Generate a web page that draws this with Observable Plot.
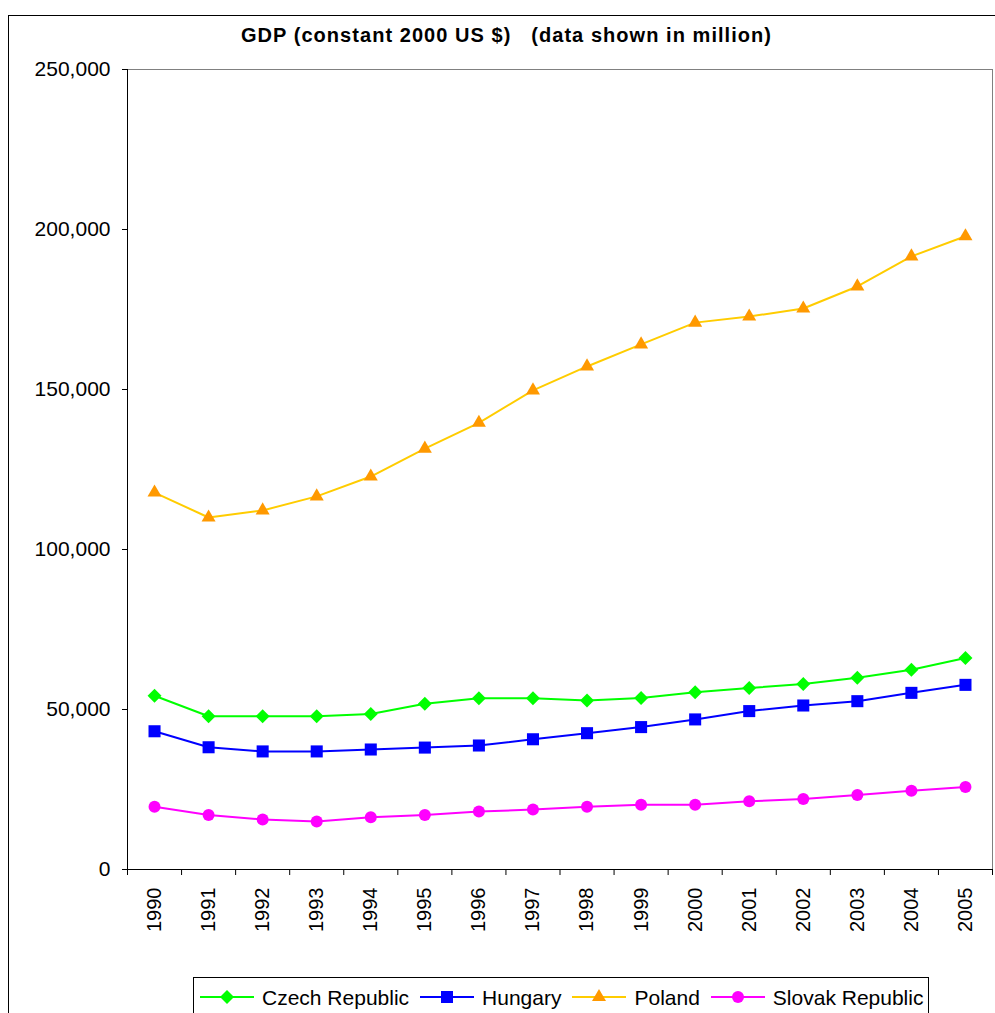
<!DOCTYPE html>
<html>
<head>
<meta charset="utf-8">
<script src="https://cdn.jsdelivr.net/npm/d3@7"></script>
<script src="https://cdn.jsdelivr.net/npm/@observablehq/plot@0.6"></script>
<style>
  body { margin: 0; background: #fff; font-family: "Liberation Sans", Arial, sans-serif; }
  #wrap { position: relative; width: 995px; height: 1013px; overflow: hidden; background: #fff; }
  #frame { position: absolute; left: 8px; top: 15px; width: 1000px; height: 1100px; border: 1px solid #000; z-index: 2; pointer-events: none; }
  #title { position: absolute; top: 26px; left: 0; width: 1013px; text-align: center; font-weight: bold; font-size: 20px; line-height: 19px; letter-spacing: 1.05px; z-index: 3; white-space: pre; }
  #chart { position: absolute; left: 0; top: 0; z-index: 1; }
  #legend { position: absolute; left: 193px; top: 977px; width: 736px; height: 60px; border: 1px solid #000; background: #fff; z-index: 3; display: flex; flex-wrap: nowrap; align-items: flex-start; padding-left: 6px; box-sizing: border-box; }
  .item { display: flex; flex-shrink: 0; align-items: center; margin-right: 11px; height: 38px; white-space: nowrap; }
  .item svg { margin-right: 8px; flex-shrink: 0; }
  .item span { font-size: 21px; line-height: 21px; white-space: nowrap; }
</style>
</head>
<body>
<div id="wrap">
  <div id="frame"></div>
  <div id="title"></div>
  <div id="chart"></div>
  <div id="legend"></div>
</div>
<script>
const years = [1990, 1991, 1992, 1993, 1994, 1995, 1996, 1997, 1998, 1999, 2000, 2001, 2002, 2003, 2004, 2005];
const czech   = [54300, 47900, 47900, 47900, 48600, 51800, 53500, 53500, 52800, 53600, 55400, 56700, 58000, 59900, 62400, 66100];
const hungary = [43200, 38200, 36900, 36900, 37500, 38100, 38750, 40700, 42600, 44500, 46900, 49500, 51250, 52600, 55200, 57700];
const poland  = [117800, 110000, 112200, 116600, 122800, 131500, 139600, 149700, 157200, 164100, 170900, 172800, 175300, 182200, 191600, 197900];
const slovak  = [19600, 17000, 15600, 15000, 16300, 17000, 18100, 18750, 19600, 20200, 20200, 21300, 22000, 23300, 24600, 25800];
const seriesNames = ["Czech Republic", "Hungary", "Poland", "Slovak Republic"];
const seriesValues = [czech, hungary, poland, slovak];
const lineColors = ["#00FF00", "#0000FF", "#FFCC00", "#FF00FF"];
const markerColors = ["#00FF00", "#0000FF", "#FF9900", "#FF00FF"];
const symbols = ["diamond2", "square", "triangle", "circle"];
const markerR = [6.3, 6.8, 5.2, 6];
const yTicks = [0, 50000, 100000, 150000, 200000, 250000];
const titleText = "GDP (constant 2000 US $)   (data shown in million)";

document.getElementById("title").textContent = titleText;

const table = [];
seriesNames.forEach((name, i) => {
  years.forEach((yr, j) => table.push({ series: name, year: yr, value: seriesValues[i][j] }));
});
const boundaries = years.map(y => y - 0.5).concat([years[years.length - 1] + 0.5]);
const x0 = years[0] - 0.5, x1 = years[years.length - 1] + 0.5;

const marks = [
  Plot.frame({ stroke: "#808080" }),
  Plot.ruleX([x0], { stroke: "#000" }),
  Plot.ruleY([0], { stroke: "#000" }),
  Plot.axisY(yTicks, { tickSize: 5, tickPadding: 12, tickFormat: d3.format(","), fontSize: 21, label: null }),
  Plot.axisX(boundaries, { tickSize: 6, tickFormat: () => "", label: null }),
  Plot.axisX(years, { tickSize: 0, tickPadding: 18, tickRotate: -90, tickFormat: d3.format("d"), fontSize: 20, label: null })
];
seriesNames.forEach((name, i) => {
  marks.push(Plot.line(table, { filter: d => d.series === name, x: "year", y: "value", stroke: lineColors[i], strokeWidth: 2 }));
});
seriesNames.forEach((name, i) => {
  marks.push(Plot.dot(table, { filter: d => d.series === name, x: "year", y: "value", symbol: symbols[i], fill: markerColors[i], stroke: "none", r: markerR[i] }));
});

const chart = Plot.plot({
  width: 995,
  height: 1013,
  marginTop: 69,
  marginLeft: 127,
  marginRight: 3,
  marginBottom: 144,
  x: { type: "linear", domain: [x0, x1], label: null },
  y: { domain: [0, 250000], label: null },
  style: { fontFamily: "'Liberation Sans', Arial, sans-serif", background: "transparent", color: "#000", overflow: "visible" },
  marks
});
document.getElementById("chart").appendChild(chart);

// legend
const legend = d3.select("#legend");
const symMap = { diamond2: d3.symbolDiamond2, square: d3.symbolSquare, triangle: d3.symbolTriangle, circle: d3.symbolCircle };
seriesNames.forEach((name, i) => {
  const item = legend.append("div").attr("class", "item");
  const svg = item.append("svg").attr("width", 54).attr("height", 20);
  svg.append("line").attr("x1", 0).attr("x2", 54).attr("y1", 10).attr("y2", 10)
    .attr("stroke", lineColors[i]).attr("stroke-width", 2);
  svg.append("path").attr("transform", "translate(27,10)")
    .attr("d", d3.symbol(symMap[symbols[i]], Math.PI * markerR[i] * markerR[i])())
    .attr("fill", markerColors[i]);
  item.append("span").text(name);
});
</script>
</body>
</html>
